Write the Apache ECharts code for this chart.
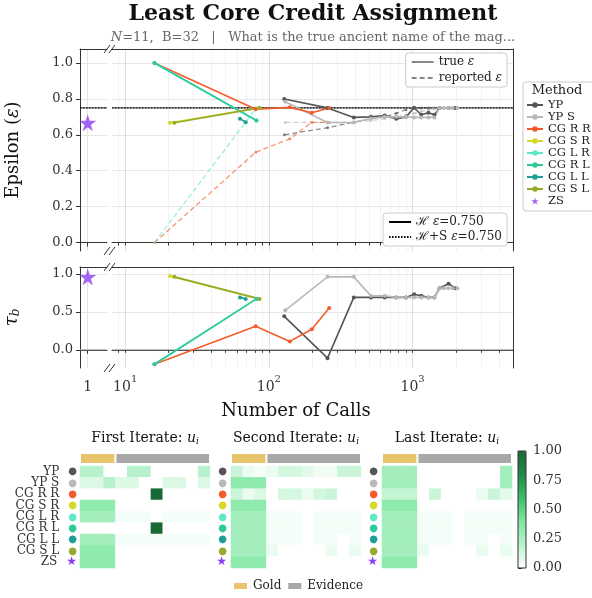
<!DOCTYPE html>
<html>
<head>
<meta charset="utf-8">
<script src="https://cdn.jsdelivr.net/npm/echarts@6/dist/echarts.min.js"></script>
<style>
  html, body { margin: 0; padding: 0; background: #fff; }
  #chart { width: 592px; height: 598px; }
</style>
</head>
<body>
<div id="chart"></div>
<script>
  const FONT = 'DejaVu Serif'

  // methods and colours
  const methods = ['YP', 'YP S', 'CG R R', 'CG S R', 'CG L R', 'CG R L', 'CG L L', 'CG S L', 'ZS']
  const methodColors = ['#555555', '#b9b9b9', '#f25c2c', '#d8d82c', '#5ee8c4', '#2ec99b', '#1f9f97', '#97aa2b', '#8b3ff2']

  // number of calls / epsilon / reported epsilon / tau_b
  const ypCalls = [128, 256, 390, 513, 640, 770, 900, 1025, 1150, 1290, 1420, 1540, 1780, 1980]
  const ypEps = [0.80, 0.75, 0.697, 0.70, 0.708, 0.689, 0.70, 0.751, 0.712, 0.723, 0.712, 0.749, 0.75, 0.75]
  const ypEpsRep = [0.60, 0.64, 0.67, 0.69, 0.70, 0.72, 0.74, 0.75, 0.75, 0.75, 0.75, 0.75, 0.75, 0.75]
  const ypTau = [0.44, -0.11, 0.69, 0.69, 0.69, 0.69, 0.69, 0.73, 0.71, 0.69, 0.69, 0.81, 0.87, 0.81]

  const ypsCalls = [130, 256, 390, 513, 640, 770, 900, 1025, 1150, 1290, 1420, 1540, 1650, 1770, 1900, 2050]
  const ypsEps = [0.784, 0.669, 0.669, 0.691, 0.70, 0.70, 0.70, 0.697, 0.697, 0.697, 0.697, 0.75, 0.75, 0.75, 0.75, 0.75]
  const ypsEpsRep = [0.669, 0.669, 0.669, 0.68, 0.69, 0.70, 0.71, 0.72, 0.73, 0.74, 0.745, 0.75, 0.75, 0.75, 0.75, 0.75]
  const ypsTau = [0.52, 0.96, 0.96, 0.71, 0.71, 0.69, 0.69, 0.69, 0.69, 0.69, 0.69, 0.81, 0.81, 0.81, 0.81, 0.81]

  const cgrrCalls = [16, 81, 140, 199, 263]
  const cgrrEps = [1.0, 0.743, 0.753, 0.723, 0.749]
  const cgrrEpsRep = [0.0, 0.503, 0.578, 0.669, 0.669]
  const cgrrTau = [-0.19, 0.31, 0.11, 0.27, 0.55]

  const cgsrCalls = [20.5, 86]
  const cgsrEps = [0.667, 0.75]
  const cgsrTau = [0.97, 0.67]

  const cglrCalls = [16, 82]
  const cglrEps = [1.0, 0.68]
  const cglrEpsRep = [0.0, 0.75]
  const cglrTau = [-0.19, 0.67]

  const cgrlCalls = [16, 82]
  const cgrlEps = [1.0, 0.68]
  const cgrlTau = [-0.19, 0.67]

  const cgllCalls = [63, 69]
  const cgllEps = [0.69, 0.67]
  const cgllTau = [0.69, 0.67]

  const cgslCalls = [22, 86]
  const cgslEps = [0.667, 0.75]
  const cgslTau = [0.96, 0.67]

  const zsCalls = [1]
  const zsEps = [0.667]
  const zsTau = [0.96]

  const hEps = 0.75
  const hsEps = 0.75

  // credit heatmaps: rows = methods, cols = 3 gold + 8 evidence
  const goldCount = 3
  const evidenceCount = 8
  const firstIter = [
    [0.2, 0.2, 0, 0, 0.2, 0.2, 0, 0, 0, 0, 0.2],
    [0.1, 0.1, 0.2, 0.1, 0.1, 0, 0, 0.1, 0.1, 0, 0.1],
    [0, 0, 0, 0, 0, 0, 1, 0, 0, 0, 0],
    [0.34, 0.34, 0.34, 0, 0, 0, 0, 0, 0, 0, 0],
    [0.27, 0.27, 0.27, 0.03, 0.03, 0.03, 0, 0.03, 0.03, 0.03, 0.03],
    [0, 0, 0, 0, 0, 0, 1, 0, 0, 0, 0],
    [0.27, 0.27, 0.27, 0.03, 0.03, 0.03, 0.03, 0.03, 0.03, 0.03, 0.03],
    [0.34, 0.34, 0.34, 0, 0, 0, 0, 0, 0, 0, 0],
    [0.34, 0.34, 0.34, 0, 0, 0, 0, 0, 0, 0, 0]
  ]
  const secondIter = [
    [0.15, 0.05, 0.03, 0.05, 0.12, 0.12, 0.08, 0.04, 0.04, 0.15, 0.15],
    [0.34, 0.34, 0.34, 0, 0, 0, 0, 0, 0, 0, 0],
    [0.15, 0.05, 0.1, 0, 0.12, 0.12, 0.06, 0.12, 0.15, 0, 0],
    [0.34, 0.34, 0.34, 0, 0, 0, 0, 0, 0, 0, 0],
    [0.27, 0.27, 0.27, 0.03, 0.03, 0.03, 0, 0.03, 0.03, 0.03, 0.03],
    [0.27, 0.27, 0.27, 0.03, 0.03, 0.03, 0, 0.03, 0.03, 0.03, 0.03],
    [0.27, 0.27, 0.27, 0.03, 0.03, 0.03, 0, 0.03, 0.03, 0, 0.03],
    [0.27, 0.27, 0.27, 0.06, 0, 0, 0, 0, 0.06, 0, 0.06],
    [0.34, 0.34, 0.34, 0, 0, 0, 0, 0, 0, 0, 0]
  ]
  const lastIter = [
    [0.27, 0.27, 0.27, 0, 0, 0, 0, 0, 0, 0, 0.27],
    [0.27, 0.27, 0.27, 0, 0, 0, 0, 0, 0, 0, 0.27],
    [0.17, 0.17, 0.17, 0, 0.15, 0, 0, 0, 0.06, 0.15, 0.08],
    [0.34, 0.34, 0.34, 0, 0, 0, 0, 0, 0, 0, 0],
    [0.27, 0.27, 0.27, 0.03, 0.03, 0.03, 0, 0.03, 0.03, 0.03, 0.03],
    [0.27, 0.27, 0.27, 0.03, 0.03, 0.03, 0, 0.03, 0.03, 0.03, 0.03],
    [0.27, 0.27, 0.27, 0.03, 0.03, 0.03, 0, 0.03, 0.03, 0, 0.03],
    [0.27, 0.27, 0.27, 0.06, 0, 0, 0, 0, 0.06, 0, 0.06],
    [0.34, 0.34, 0.34, 0, 0, 0, 0, 0, 0, 0, 0]
  ]
  const heatTitles = ['First Iterate: ', 'Second Iterate: ', 'Last Iterate: ']

  // tick labels
  const epsTicks = [0, 0.2, 0.4, 0.6, 0.8, 1.0]
  const tauTicks = [0, 0.5, 1.0]
  const logMajor = [10, 100, 1000]
  const logMinor = [9, 20, 30, 40, 50, 60, 70, 80, 90, 200, 300, 400, 500, 600, 700, 800, 900, 2000, 3000, 4000]
  const cbTicks = [0, 0.25, 0.5, 0.75, 1.0]

  const STAR = 'path://M50,0 L61,35 L98,35 L68,57 L79,91 L50,70 L21,91 L32,57 L2,35 L39,35 Z'
  const LOG_MIN = 8.1
  const LOG_MAX = 5000
  const SPINE = '#333'

  function pts(xs, ys) {
    return xs.map((x, i) => [x, ys[i]])
  }
  function mline(name, color, xi, yi, data, dashed) {
    return {
      type: 'line', name: name, xAxisIndex: xi, yAxisIndex: yi, data: data,
      symbol: 'circle', symbolSize: dashed ? 3 : 4, showSymbol: true,
      lineStyle: { color: color, width: dashed ? 1.3 : 1.6, type: dashed ? [5, 3] : 'solid', opacity: dashed ? 0.65 : 1 },
      itemStyle: { color: color, opacity: dashed ? 0.65 : 1 },
      z: dashed ? 3 : 4, silent: true
    }
  }
  function star(xi, yi, data) {
    return {
      type: 'scatter', name: 'ZS', xAxisIndex: xi, yAxisIndex: yi, data: data,
      symbol: STAR, symbolSize: 17, itemStyle: { color: methodColors[8] }, z: 6, silent: true
    }
  }
  function flat(name, xi, yi, x0, x1, y, color, type, width) {
    return {
      type: 'line', name: name, xAxisIndex: xi, yAxisIndex: yi, data: [[x0, y], [x1, y]],
      symbol: 'none', lineStyle: { color: color, type: type, width: width }, itemStyle: { color: color }, z: 2, silent: true
    }
  }
  function heatData(m) {
    const out = []
    m.forEach((row, r) => row.forEach((v, c) => out.push([c, r, v])))
    return out
  }

  // axes helpers
  function topSpine(gi, type, min, max, ticks, gridColor) {
    return {
      gridIndex: gi, type: type, position: 'top', min: min, max: max,
      axisLine: { show: true, lineStyle: { color: SPINE } },
      axisTick: { show: false, customValues: ticks },
      axisLabel: { show: false },
      splitLine: { show: !!gridColor, lineStyle: { color: gridColor || '#eee' } }
    }
  }
  const supRich = {
    b: { fontSize: 14, fontFamily: FONT, color: '#333', lineHeight: 20, verticalAlign: 'bottom' },
    s: { fontSize: 10, fontFamily: FONT, color: '#333', lineHeight: 20, verticalAlign: 'top' }
  }
  function logBottom(gi, labels) {
    return {
      gridIndex: gi, type: 'log', logBase: 10, min: LOG_MIN, max: LOG_MAX,
      axisLine: { show: true, lineStyle: { color: SPINE } },
      axisTick: { show: true, length: 3, customValues: logMajor.concat(logMinor), lineStyle: { color: SPINE } },
      axisLabel: labels ? {
        show: true, customValues: logMajor, margin: 6,
        formatter: v => '{b|10}{s|' + Math.round(Math.log10(v)) + '}', rich: supRich
      } : { show: false },
      splitLine: { show: true, lineStyle: { color: '#f2f2f2' } }
    }
  }
  function oneBottom(gi, labels) {
    return {
      gridIndex: gi, type: 'value', min: 0, max: 3.5,
      axisLine: { show: true, lineStyle: { color: SPINE } },
      axisTick: { show: true, length: 4, customValues: [1], lineStyle: { color: SPINE } },
      axisLabel: labels ? { show: true, customValues: [1], margin: 6, formatter: '{b|1}', rich: supRich } : { show: false },
      splitLine: { show: true, lineStyle: { color: '#e4e4e4' } }
    }
  }
  function leftY(gi, min, max, ticks, name, nameRich) {
    return {
      gridIndex: gi, type: 'value', min: min, max: max, position: 'left',
      axisLine: { show: true, lineStyle: { color: SPINE } },
      axisTick: { show: true, length: 4, customValues: ticks, lineStyle: { color: SPINE } },
      axisLabel: { customValues: ticks, formatter: v => v.toFixed(1), fontSize: 13, color: '#333', margin: 7, fontFamily: FONT },
      splitLine: { show: true, lineStyle: { color: '#e6e6e6' } },
      name: name, nameLocation: 'middle', nameGap: 58, nameRotate: 90,
      nameTextStyle: { fontSize: 18, color: '#111', fontFamily: FONT, rich: nameRich }
    }
  }
  function rightY(gi, min, max, ticks) {
    return {
      gridIndex: gi, type: 'value', min: min, max: max, position: 'right',
      axisLine: { show: true, lineStyle: { color: SPINE } },
      axisTick: { show: false, customValues: ticks },
      axisLabel: { show: false },
      splitLine: { show: true, lineStyle: { color: '#e6e6e6' } }
    }
  }

  const heatLefts = [80, 231, 382]
  const dotRich = {
    t: { fontSize: 12, color: '#333', fontFamily: FONT },
    sp: { width: 9 }
  }
  methods.forEach((m, i) => {
    dotRich['d' + i] = { color: methodColors[i], fontFamily: 'DejaVu Sans', fontSize: i === 8 ? 12 : 10 }
  })
  const markChar = i => (i === 8 ? '★' : '●')

  const grids = [
    { left: 80, top: 49, width: 27, height: 202 },
    { left: 112, top: 49, width: 401, height: 202 },
    { left: 80, top: 267, width: 27, height: 101 },
    { left: 112, top: 267, width: 401, height: 101 }
  ]
  heatLefts.forEach(l => grids.push({ left: l, top: 466, width: 130, height: 102 }))
  heatLefts.forEach(l => grids.push({ left: l, top: 453, width: 130, height: 11 }))
  grids.push({ left: 518, top: 451, width: 8, height: 117, show: true, borderColor: SPINE, borderWidth: 1, backgroundColor: 'transparent', z: 10 })
  grids.forEach(g => { g.containLabel = false; g.outerBoundsMode = 'none' })

  const xAxes = [
    oneBottom(0, false),
    topSpine(0, 'value', 0, 3.5, [1], null),
    logBottom(1, false),
    topSpine(1, 'log', LOG_MIN, LOG_MAX, logMajor, '#dedede'),
    oneBottom(2, true),
    topSpine(2, 'value', 0, 3.5, [1], null),
    logBottom(3, true),
    topSpine(3, 'log', LOG_MIN, LOG_MAX, logMajor, '#dedede')
  ]
  const cols = Array.from({ length: goldCount + evidenceCount }, (_, i) => String(i))
  for (let k = 0; k < 3; k++) {
    xAxes.push({ gridIndex: 4 + k, type: 'category', data: cols, show: false })
  }
  for (let k = 0; k < 3; k++) {
    xAxes.push({ gridIndex: 7 + k, type: 'value', min: 0, max: goldCount + evidenceCount, show: false })
  }
  xAxes.push({ gridIndex: 10, type: 'value', show: false })

  const yAxes = [
    leftY(0, -0.047, 1.078, epsTicks, 'Epsilon ({i|ε})', { i: { fontSize: 18, fontStyle: 'italic', fontFamily: FONT, color: '#111' } }),
    rightY(1, -0.047, 1.078, epsTicks),
    leftY(2, -0.24, 1.09, tauTicks, '{t|τ}{s|b}', {
      t: { fontSize: 18, fontFamily: FONT, color: '#111', fontStyle: 'italic' },
      s: { fontSize: 12, fontFamily: FONT, color: '#111', fontStyle: 'italic', padding: [8, 0, 0, 0] }
    }),
    rightY(3, -0.24, 1.09, tauTicks)
  ]
  for (let k = 0; k < 3; k++) {
    yAxes.push({
      gridIndex: 4 + k, type: 'category', data: methods, inverse: true,
      axisLine: { show: false }, axisTick: { show: false }, splitLine: { show: false },
      axisLabel: {
        interval: 0,
        margin: k === 0 ? 3 : 4,
        formatter: (v, i) => (k === 0 ? '{t|' + v + '}{sp|}' : '') + '{d' + i + '|' + markChar(i) + '}',
        rich: dotRich
      }
    })
  }
  for (let k = 0; k < 3; k++) {
    yAxes.push({ gridIndex: 7 + k, type: 'category', data: ['ctx'], show: false })
  }
  yAxes.push({
    gridIndex: 10, type: 'value', min: 0, max: 1, position: 'right',
    axisLine: { show: false },
    axisTick: { show: true, length: 4, customValues: cbTicks, lineStyle: { color: SPINE } },
    axisLabel: { customValues: cbTicks, formatter: v => v.toFixed(2), fontSize: 13, color: '#333', margin: 7, fontFamily: FONT },
    splitLine: { show: false }
  })

  const series = [
    // top: epsilon, solid (true)
    mline('YP', methodColors[0], 2, 1, pts(ypCalls, ypEps), false),
    mline('YP S', methodColors[1], 2, 1, pts(ypsCalls, ypsEps), false),
    mline('CG R R', methodColors[2], 2, 1, pts(cgrrCalls, cgrrEps), false),
    mline('CG S R', methodColors[3], 2, 1, pts(cgsrCalls, cgsrEps), false),
    mline('CG L R', methodColors[4], 2, 1, pts(cglrCalls, cglrEps), false),
    mline('CG R L', methodColors[5], 2, 1, pts(cgrlCalls, cgrlEps), false),
    mline('CG L L', methodColors[6], 2, 1, pts(cgllCalls, cgllEps), false),
    mline('CG S L', methodColors[7], 2, 1, pts(cgslCalls, cgslEps), false),
    star(0, 0, pts(zsCalls, zsEps)),
    // top: reported epsilon (dashed)
    mline('YP', methodColors[0], 2, 1, pts(ypCalls, ypEpsRep), true),
    mline('YP S', methodColors[1], 2, 1, pts(ypsCalls, ypsEpsRep), true),
    mline('CG R R', methodColors[2], 2, 1, pts(cgrrCalls, cgrrEpsRep), true),
    mline('CG L R', methodColors[4], 2, 1, pts(cglrCalls, cglrEpsRep), true),
    // reference lines
    flat('ℋ ε=0.750', 2, 1, LOG_MIN, LOG_MAX, hEps, '#000', 'solid', 0.8),
    flat('ℋ ε=0.750', 0, 0, 0, 3.5, hEps, '#000', 'solid', 0.8),
    flat('ℋ+S ε=0.750', 2, 1, LOG_MIN, LOG_MAX, hsEps, '#000', [1.5, 1.5], 1),
    flat('ℋ+S ε=0.750', 0, 0, 0, 3.5, hsEps, '#000', [1.5, 1.5], 1),
    { type: 'line', name: 'true ε', xAxisIndex: 2, yAxisIndex: 1, data: [], symbol: 'none', lineStyle: { color: '#888', width: 2.5 }, itemStyle: { color: '#888' } },
    { type: 'line', name: 'reported ε', xAxisIndex: 2, yAxisIndex: 1, data: [], symbol: 'none', lineStyle: { color: '#888', width: 1.5, type: [5, 3] }, itemStyle: { color: '#888' } },
    // middle: tau_b
    flat('zero', 6, 3, LOG_MIN, LOG_MAX, 0, '#aaa', 'solid', 1),
    flat('zero', 4, 2, 0, 3.5, 0, '#aaa', 'solid', 1),
    mline('YP', methodColors[0], 6, 3, pts(ypCalls, ypTau), false),
    mline('YP S', methodColors[1], 6, 3, pts(ypsCalls, ypsTau), false),
    mline('CG R R', methodColors[2], 6, 3, pts(cgrrCalls, cgrrTau), false),
    mline('CG S R', methodColors[3], 6, 3, pts(cgsrCalls, cgsrTau), false),
    mline('CG L R', methodColors[4], 6, 3, pts(cglrCalls, cglrTau), false),
    mline('CG R L', methodColors[5], 6, 3, pts(cgrlCalls, cgrlTau), false),
    mline('CG L L', methodColors[6], 6, 3, pts(cgllCalls, cgllTau), false),
    mline('CG S L', methodColors[7], 6, 3, pts(cgslCalls, cgslTau), false),
    star(4, 2, pts(zsCalls, zsTau))
  ]
  const heatSeriesIdx = []
  ;[firstIter, secondIter, lastIter].forEach((m, k) => {
    heatSeriesIdx.push(series.length)
    series.push({ type: 'heatmap', xAxisIndex: 8 + k, yAxisIndex: 4 + k, data: heatData(m), silent: true })
    series.push({
      type: 'bar', name: 'Gold', stack: 'ctx' + k, xAxisIndex: 11 + k, yAxisIndex: 7 + k, data: [goldCount],
      barWidth: '100%', itemStyle: { color: '#e8c46c', borderColor: '#fff', borderWidth: 1 }, silent: true
    })
    series.push({
      type: 'bar', name: 'Evidence', stack: 'ctx' + k, xAxisIndex: 11 + k, yAxisIndex: 7 + k, data: [evidenceCount],
      barWidth: '100%', itemStyle: { color: '#a8a8a8', borderColor: '#fff', borderWidth: 1 }, silent: true
    })
  })

  const titles = [
    { text: 'Least Core Credit Assignment', left: 313, top: 3, textAlign: 'center', padding: 0,
      textStyle: { fontSize: 22, fontWeight: 'bold', fontFamily: FONT, color: '#111' } },
    { text: '{i|N}{t|=11,  B=32   |   What is the true ancient name of the mag...}', left: 313, top: 31, textAlign: 'center', padding: 0,
      textStyle: { fontWeight: 'normal', rich: {
        i: { fontSize: 13, fontStyle: 'italic', fontWeight: 'normal', fontFamily: FONT, color: '#666' },
        t: { fontSize: 13, fontWeight: 'normal', fontFamily: FONT, color: '#666' }
      } } },
    { text: 'Number of Calls', left: 296, top: 402, textAlign: 'center', padding: 0,
      textStyle: { fontSize: 18, fontWeight: 'normal', fontFamily: FONT, color: '#111' } },
    { text: 'Method', left: 557, top: 84, textAlign: 'center', padding: 0,
      textStyle: { fontSize: 13, fontWeight: 'normal', fontFamily: FONT, color: '#222' } }
  ]
  heatTitles.forEach((t, k) => {
    titles.push({
      text: '{t|' + t + '}{u|u}{s|i}', left: heatLefts[k] + 65, top: 431, textAlign: 'center', padding: 0,
      textStyle: { fontWeight: 'normal', rich: {
        t: { fontSize: 14, fontWeight: 'normal', fontFamily: FONT, color: '#111' },
        u: { fontSize: 14, fontWeight: 'normal', fontFamily: FONT, color: '#111', fontStyle: 'italic' },
        s: { fontSize: 9, fontWeight: 'normal', fontFamily: FONT, color: '#111', fontStyle: 'italic', padding: [6, 0, 0, 0] }
      } }
    })
  })

  const epsRich = { i: { fontStyle: 'italic', fontFamily: FONT, fontSize: 12, color: '#222' } }
  const legendBox = { backgroundColor: '#fff', borderColor: '#ccc', borderWidth: 1, borderRadius: 3 }
  const legends = [
    Object.assign({
      data: methods, orient: 'vertical', left: 523, top: 82, padding: [17, 6, 4, 3],
      itemWidth: 16, itemHeight: 7, itemGap: 0, selectedMode: false,
      textStyle: { fontSize: 11.5, lineHeight: 11.4, fontFamily: FONT, color: '#222' }
    }, legendBox),
    Object.assign({
      data: ['true ε', 'reported ε'], orient: 'vertical', right: 85, top: 53, padding: [3, 5, 3, 5],
      itemWidth: 22, itemHeight: 10, itemGap: 4, selectedMode: false,
      itemStyle: { opacity: 0 },
      formatter: n => n.replace('ε', '{i|ε}'),
      textStyle: { fontSize: 12, fontFamily: FONT, color: '#222', rich: epsRich }
    }, legendBox),
    Object.assign({
      data: ['ℋ ε=0.750', 'ℋ+S ε=0.750'], orient: 'vertical', right: 85, top: 213, padding: [3, 5, 3, 5],
      itemWidth: 22, itemHeight: 10, itemGap: 3, selectedMode: false,
      itemStyle: { opacity: 0 },
      formatter: n => n.replace('ε', '{i|ε}'),
      textStyle: { fontSize: 12, fontFamily: FONT, color: '#222', rich: epsRich }
    }, legendBox),
    {
      data: ['Gold', 'Evidence'], orient: 'horizontal', left: 232, top: 580, padding: 0,
      itemWidth: 15, itemHeight: 8, itemGap: 5, icon: 'rect', selectedMode: false,
      textStyle: { fontSize: 12, fontFamily: FONT, color: '#222' }
    }
  ]

  // break marks on the broken x axis
  const breakYs = [49, 251, 267, 368]
  const graphics = []
  breakYs.forEach(y => [107, 112].forEach(x => {
    graphics.push({ type: 'line', shape: { x1: x - 3, y1: y + 4, x2: x + 3, y2: y - 4 }, style: { stroke: SPINE, lineWidth: 1 }, z: 100 })
  }))

  const option = {
    animation: false,
    backgroundColor: '#fff',
    textStyle: { fontFamily: FONT },
    title: titles,
    grid: grids,
    xAxis: xAxes,
    yAxis: yAxes,
    legend: legends,
    visualMap: {
      type: 'continuous', min: 0, max: 1, seriesIndex: heatSeriesIdx,
      inRange: { color: ['#ffffff', '#b8f2cc', '#7ee6a0', '#3cbf6a', '#228a48', '#186a35'] },
      show: true, calculable: false, left: 518, top: 451, itemWidth: 8, itemHeight: 117, padding: 0,
      text: null, hoverLink: false
    },
    graphic: graphics,
    series: series
  }

  const myChart = echarts.init(document.getElementById('chart'))
  myChart.setOption(option)
</script>
</body>
</html>
